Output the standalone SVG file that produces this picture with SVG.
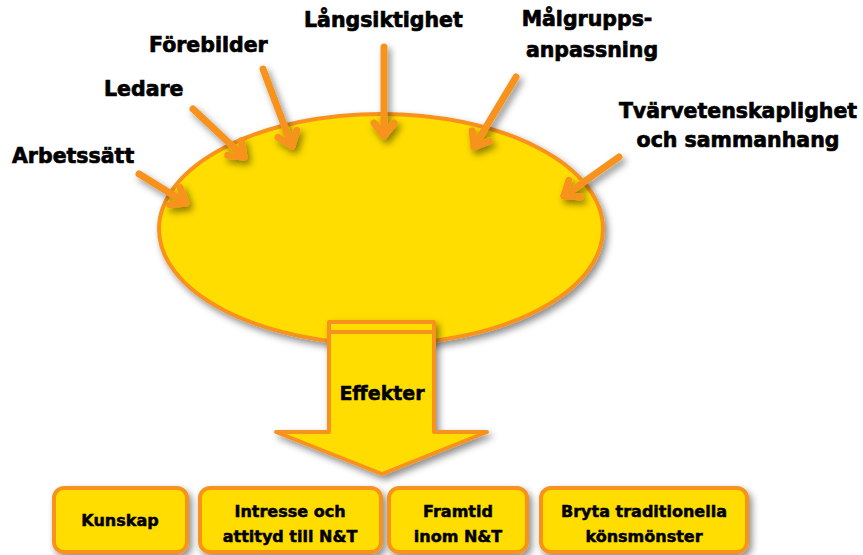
<svg xmlns="http://www.w3.org/2000/svg" width="863" height="555" viewBox="0 0 863 555">
<defs>
<filter id="sh" x="-20%" y="-20%" width="150%" height="150%">
<feDropShadow dx="3" dy="4" stdDeviation="3.5" flood-color="#000" flood-opacity="0.45"/>
</filter>
<marker id="ah" markerUnits="userSpaceOnUse" markerWidth="30" markerHeight="30" viewBox="-20 -15 30 30" refX="0" refY="0" orient="auto">
<path d="M-13,-10 L0,0 L-13,10" fill="none" stroke="#F7931E" stroke-width="7" stroke-linecap="round" stroke-linejoin="round"/>
</marker>
</defs>
<style>
.lbl{font-family:"DejaVu Sans",sans-serif;font-weight:bold;font-size:20.5px;fill:#000;stroke:#000;stroke-width:0.7px}
.box{fill:#FFDD00;stroke:#F7931E;stroke-width:4}
.btxt{font-family:"DejaVu Sans",sans-serif;font-weight:bold;font-size:16px;fill:#000;stroke:#000;stroke-width:0.5px;text-anchor:middle}
.con{stroke:#F7931E;stroke-width:7;stroke-linecap:round;fill:none}
</style>
<rect width="863" height="555" fill="#fff"/>

<g id="center" filter="url(#sh)">
<ellipse cx="381" cy="229" rx="222" ry="115" fill="#FFDD00" stroke="#F7931E" stroke-width="4"/>
</g>

<g id="effekter">
<g filter="url(#sh)">
<path d="M329,322 L434,322 L434,432 L487,432 L382,474 L276,432 L329,432 Z" class="box" stroke-linejoin="round"/>
<line x1="329" y1="332" x2="434" y2="332" stroke="#F7931E" stroke-width="4"/>
</g>
<text x="382" y="400" class="btxt" style="font-size:19px">Effekter</text>
</g>

<g id="labels">
<g id="n-arbetssatt"><text x="12" y="163" class="lbl">Arbetssätt</text></g>
<g id="n-ledare"><text x="104" y="96" class="lbl">Ledare</text></g>
<g id="n-forebilder"><text x="149" y="52" class="lbl">Förebilder</text></g>
<g id="n-langsiktighet"><text x="304" y="27" class="lbl">Långsiktighet</text></g>
<g id="n-malgrupps"><text x="587" y="26" class="lbl" text-anchor="middle">Målgrupps-</text><text x="592" y="57" class="lbl" text-anchor="middle">anpassning</text></g>
<g id="n-tvarvet"><text x="738" y="118" class="lbl" text-anchor="middle">Tvärvetenskaplighet</text><text x="738" y="147" class="lbl" text-anchor="middle">och sammanhang</text></g>
</g>

<g id="connectors" filter="url(#sh)">
<line class="con" x1="139" y1="174" x2="186" y2="203" marker-end="url(#ah)"/>
<line class="con" x1="193" y1="109" x2="244" y2="157" marker-end="url(#ah)"/>
<line class="con" x1="263" y1="69" x2="292" y2="146" marker-end="url(#ah)"/>
<line class="con" x1="384" y1="47" x2="384" y2="136" marker-end="url(#ah)"/>
<line class="con" x1="516" y1="77" x2="474" y2="147" marker-end="url(#ah)"/>
<line class="con" x1="619" y1="157" x2="564" y2="196" marker-end="url(#ah)"/>
</g>

<g id="b-kunskap">
<rect x="54" y="488" width="133" height="64" rx="10" class="box" filter="url(#sh)"/>
<text x="120" y="526" class="btxt">Kunskap</text>
</g>
<g id="b-intresse">
<rect x="200" y="488" width="181" height="64" rx="10" class="box" filter="url(#sh)"/>
<text x="290" y="517" class="btxt">Intresse och</text>
<text x="290" y="542" class="btxt">attityd till N&amp;T</text>
</g>
<g id="b-framtid">
<rect x="389" y="488" width="138" height="64" rx="10" class="box" filter="url(#sh)"/>
<text x="458" y="517" class="btxt">Framtid</text>
<text x="458" y="542" class="btxt">inom N&amp;T</text>
</g>
<g id="b-bryta">
<rect x="541" y="488" width="206" height="64" rx="10" class="box" filter="url(#sh)"/>
<text x="644" y="517" class="btxt">Bryta traditionella</text>
<text x="644" y="542" class="btxt">könsmönster</text>
</g>
</svg>
